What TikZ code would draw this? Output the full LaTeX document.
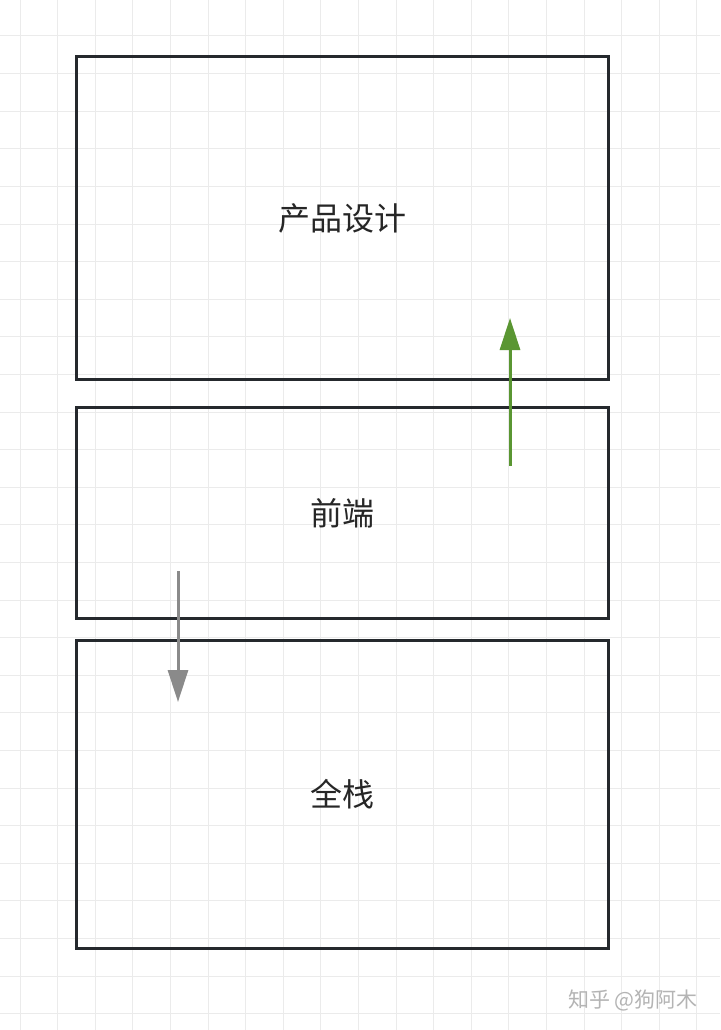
\documentclass[tikz,border=0pt]{standalone}
\usepackage{fontspec}
\setmainfont{Noto Sans CJK SC}
\usetikzlibrary{arrows.meta}
\usetikzlibrary{positioning}
\definecolor{boxline}{HTML}{25292D}
\definecolor{gridline}{HTML}{EBEBEB}
\definecolor{upgreen}{HTML}{5A9632}
\definecolor{downgray}{HTML}{8A8A8A}
\definecolor{marktext}{HTML}{B4B4B4}
\tikzset{layer/.style={rectangle,draw=boxline,line width=3pt,fill=none,
minimum width=532pt,inner sep=0pt,text=black!85,font=\fontsize{32}{32}\selectfont},
move/.style={line width=3pt,-{Triangle[length=32pt,width=20pt]}},
gridrule/.style={draw=gridline,line width=1pt},
>={Triangle[length=32pt,width=20pt]}}
\begin{document}
\begin{tikzpicture}[x=1pt,y=-1pt]
  \useasboundingbox [fill=white] (0,0) rectangle (720,1030);
  % background grid
  \foreach \gx in {0,...,18}
    \draw [gridrule] (20+37.6*\gx,0) -- (20+37.6*\gx,1030);
  \foreach \gy in {-1,...,26}
    \draw [gridrule] (0,36+37.6*\gy) -- (720,36+37.6*\gy);

  \node (design) [layer,minimum height=322pt] at (342,218) {产品设计};
  \node (front) [layer,minimum height=211pt] at (342,513) {前端};
  \node (full) [layer,minimum height=308pt] at (342,794.5) {全栈};

  \coordinate (upstart) at (510,466);
  \coordinate (upend) at (510,318);
  \coordinate (downstart) at (178,571);
  \coordinate (downend) at (178,702);
  \draw [move,draw=upgreen,fill=upgreen] (upstart) -- (upend);
  \draw [move,draw=downgray,fill=downgray] (downstart) -- (downend);

  \node (mark) [text=marktext,font=\fontsize{21}{21}\selectfont] at (633,1000) {知乎 @狗阿木};
\end{tikzpicture}
\end{document}
